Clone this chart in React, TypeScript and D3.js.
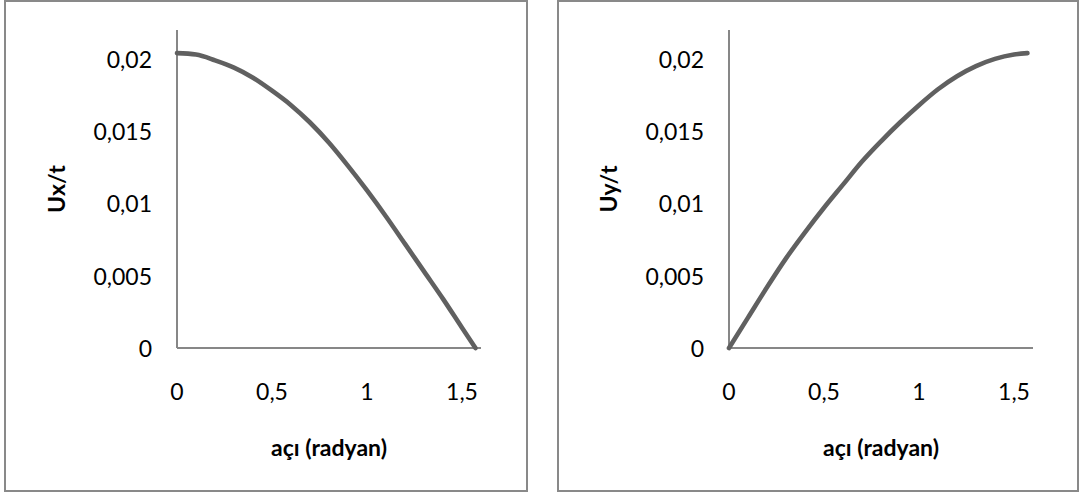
import React from "react";
import * as d3 from "d3";

// Angle samples (radians) shared by both series
const angles = [0, 0.1, 0.2, 0.3, 0.4, 0.5, 0.6, 0.7, 0.8, 0.9, 1.0, 1.1, 1.2, 1.3, 1.4, 1.5, 1.5708];

// Normalised displacement components
const uxValues = [0.0204, 0.0203, 0.0199, 0.0194, 0.0187, 0.0178, 0.0168, 0.0156, 0.0142, 0.0126, 0.0109, 0.0091, 0.0072, 0.0053, 0.0034, 0.0014, 0];
const uyValues = [0, 0.0021, 0.0042, 0.0062, 0.008, 0.0097, 0.0113, 0.0129, 0.0143, 0.0156, 0.0168, 0.0179, 0.0188, 0.0195, 0.02, 0.0203, 0.0204];

// Axis ticks
const xTicks = [0, 0.5, 1, 1.5];
const yTicks = [0, 0.005, 0.01, 0.015, 0.02];

const xTitle = "açı (radyan)";
const yTitles = ["Ux/t", "Uy/t"];

const W = 1081;
const H = 495;
const FONT = "Lato, Calibri, 'Open Sans', sans-serif";
const fmt = (v: number) => String(v).replace(".", ",");

type PanelProps = {
  frameX: number;
  frameW: number;
  plotLeft: number;
  values: number[];
  yTitle: string;
};

function Panel({ frameX, frameW, plotLeft, values, yTitle }: PanelProps) {
  const x = d3.scaleLinear().domain([0, 1.6]).range([plotLeft, plotLeft + 304]);
  const y = d3.scaleLinear().domain([0, 0.022]).range([348, 30]);
  const line = d3
    .line<number>()
    .x((_, i) => x(angles[i]))
    .y((v) => y(v))
    .curve(d3.curveMonotoneX);
  const [x0, x1] = x.range();
  const [yb, yt] = y.range();
  return (
    <g>
      <rect x={frameX} y={1} width={frameW} height={490} fill="#fff" stroke="#898989" strokeWidth={2} />
      {/* axis lines */}
      <line x1={x0} y1={yb} x2={x0} y2={yt} stroke="#878787" strokeWidth={2} />
      <line x1={x0} y1={yb} x2={x1} y2={yb} stroke="#878787" strokeWidth={2} />
      {/* y tick labels */}
      {yTicks.map((t) => (
        <text key={"y" + t} x={x0 - 25} y={y(t)} textAnchor="end" dominantBaseline="central" fontSize={23} fontFamily={FONT} fill="#000">
          {fmt(t)}
        </text>
      ))}
      {/* x tick labels */}
      {xTicks.map((t) => (
        <text key={"x" + t} x={x(t)} y={391} textAnchor="middle" dominantBaseline="central" fontSize={23} fontFamily={FONT} fill="#000">
          {fmt(t)}
        </text>
      ))}
      {/* data curve */}
      <path d={line(values) ?? ""} fill="none" stroke="#606060" strokeWidth={4.6} strokeLinecap="round" strokeLinejoin="round" />
      {/* titles */}
      <text x={(x0 + x1) / 2} y={447} textAnchor="middle" dominantBaseline="central" fontSize={23} fontWeight="bold" fontFamily={FONT} fill="#000">
        {xTitle}
      </text>
      <text
        transform={`translate(${x0 - 121},${(yb + yt) / 2}) rotate(-90)`}
        textAnchor="middle"
        dominantBaseline="central"
        fontSize={23}
        fontWeight="bold"
        fontFamily={FONT}
        fill="#000"
      >
        {yTitle}
      </text>
    </g>
  );
}

export default function App() {
  return (
    <svg width={W} height={H} style={{ position: "absolute", left: 0, top: 0, background: "#fff" }}>
      <rect width={W} height={H} fill="#fff" />
      <Panel frameX={5} frameW={522} plotLeft={177} values={uxValues} yTitle={yTitles[0]} />
      <Panel frameX={558} frameW={520} plotLeft={729} values={uyValues} yTitle={yTitles[1]} />
    </svg>
  );
}
